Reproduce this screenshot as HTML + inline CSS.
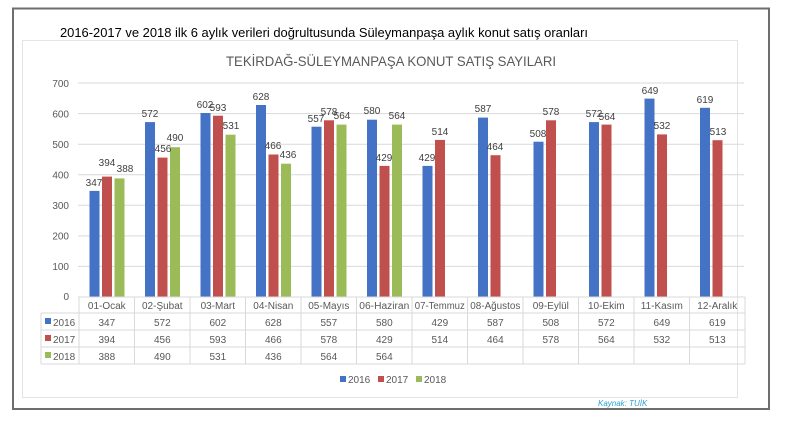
<!DOCTYPE html>
<html><head><meta charset="utf-8"><style>
html,body{margin:0;padding:0;background:#fff;}
svg{display:block;font-family:"Liberation Sans",Arial,sans-serif;}
</style></head><body>
<svg width="791" height="423" viewBox="0 0 791 423" xmlns="http://www.w3.org/2000/svg">
<rect x="13" y="8.5" width="756" height="400.5" fill="#fff" stroke="#6e6e6e" stroke-width="2"/>
<rect x="22.5" y="40.5" width="715" height="357" fill="#fff" stroke="#e4e4e4" stroke-width="1"/>
<text x="60" y="37" font-size="13" textLength="528" lengthAdjust="spacingAndGlyphs" fill="#000">2016-2017 ve 2018 ilk 6 aylık verileri doğrultusunda Süleymanpaşa aylık konut  satış oranları</text>
<text x="391" y="66" font-size="14" textLength="330" lengthAdjust="spacingAndGlyphs" fill="#595959" text-anchor="middle">TEKİRDAĞ-SÜLEYMANPAŞA KONUT SATIŞ SAYILARI</text>
<g stroke="#d9d9d9" stroke-width="1">
<line x1="78" y1="83" x2="744" y2="83"/><line x1="78" y1="113.6" x2="744" y2="113.6"/>
<line x1="78" y1="144.2" x2="744" y2="144.2"/><line x1="78" y1="174.7" x2="744" y2="174.7"/>
<line x1="78" y1="205.3" x2="744" y2="205.3"/><line x1="78" y1="235.9" x2="744" y2="235.9"/>
<line x1="78" y1="266.4" x2="744" y2="266.4"/>
</g>
<g font-size="10" fill="#595959" text-anchor="end">
<text x="69" y="87">700</text><text x="69" y="117.5">600</text><text x="69" y="148">500</text>
<text x="69" y="178.5">400</text><text x="69" y="209">300</text><text x="69" y="239.5">200</text>
<text x="69" y="270">100</text><text x="69" y="300">0</text>
</g>
<g fill="#4472c4">
<rect x="89.5" y="190.9" width="10" height="106.1"/><rect x="145" y="122.1" width="10" height="174.9"/>
<rect x="200.5" y="113" width="10" height="184"/><rect x="256" y="105" width="10" height="192"/>
<rect x="311.5" y="126.7" width="10" height="170.3"/><rect x="367" y="119.7" width="10" height="177.3"/>
<rect x="422.5" y="165.9" width="10" height="131.1"/><rect x="478" y="117.6" width="10" height="179.4"/>
<rect x="533.5" y="141.7" width="10" height="155.3"/><rect x="589" y="122.1" width="10" height="174.9"/>
<rect x="644.5" y="98.6" width="10" height="198.4"/><rect x="700" y="107.8" width="10" height="189.2"/>
</g>
<g fill="#c0504d">
<rect x="102" y="176.6" width="10" height="120.4"/><rect x="157.5" y="157.6" width="10" height="139.4"/>
<rect x="213" y="115.7" width="10" height="181.3"/><rect x="268.5" y="154.5" width="10" height="142.5"/>
<rect x="324" y="120.3" width="10" height="176.7"/><rect x="379.5" y="165.9" width="10" height="131.1"/>
<rect x="435" y="139.9" width="10" height="157.1"/><rect x="490.5" y="155.2" width="10" height="141.8"/>
<rect x="546" y="120.3" width="10" height="176.7"/><rect x="601.5" y="124.6" width="10" height="172.4"/>
<rect x="657" y="134.4" width="10" height="162.6"/><rect x="712.5" y="140.2" width="10" height="156.8"/>
</g>
<g fill="#9bbb59">
<rect x="114.5" y="178.4" width="10" height="118.6"/><rect x="170" y="147.2" width="10" height="149.8"/>
<rect x="225.5" y="134.7" width="10" height="162.3"/><rect x="281" y="163.7" width="10" height="133.3"/>
<rect x="336.5" y="124.6" width="10" height="172.4"/><rect x="392" y="124.6" width="10" height="172.4"/>
</g>
<g font-size="10" fill="#404040" text-anchor="middle">
<text x="94" y="186">347</text><text x="150" y="117">572</text><text x="205" y="108">602</text><text x="261" y="100">628</text>
<text x="316" y="122">557</text><text x="372" y="114">580</text><text x="427" y="161">429</text><text x="483" y="112">587</text>
<text x="538" y="137">508</text><text x="594" y="117">572</text><text x="650" y="94">649</text><text x="705" y="103">619</text>
<text x="107" y="166">394</text><text x="163" y="152">456</text><text x="218" y="111">593</text><text x="273" y="149">466</text>
<text x="329" y="115">578</text><text x="384" y="161">429</text><text x="440" y="135">514</text><text x="495" y="150">464</text>
<text x="551" y="115">578</text><text x="607" y="120">564</text><text x="662" y="129">532</text><text x="718" y="135">513</text>
<text x="125" y="172">388</text><text x="175" y="141">490</text><text x="231" y="129">531</text><text x="288" y="158">436</text>
<text x="342" y="119">564</text><text x="397" y="119">564</text>
</g>
<g stroke="#d9d9d9" stroke-width="1" fill="none">
<line x1="78" y1="297" x2="745" y2="297"/>
<line x1="41" y1="313" x2="745" y2="313"/>
<line x1="41" y1="330" x2="745" y2="330"/>
<line x1="41" y1="347" x2="745" y2="347"/>
<line x1="41" y1="364" x2="745" y2="364"/>
<line x1="41" y1="313" x2="41" y2="364"/>
<line x1="79" y1="297" x2="79" y2="364"/><line x1="134.5" y1="297" x2="134.5" y2="364"/>
<line x1="190" y1="297" x2="190" y2="364"/><line x1="245.5" y1="297" x2="245.5" y2="364"/>
<line x1="301" y1="297" x2="301" y2="364"/><line x1="356.5" y1="297" x2="356.5" y2="364"/>
<line x1="412" y1="297" x2="412" y2="364"/><line x1="467.5" y1="297" x2="467.5" y2="364"/>
<line x1="523" y1="297" x2="523" y2="364"/><line x1="578.5" y1="297" x2="578.5" y2="364"/>
<line x1="634" y1="297" x2="634" y2="364"/><line x1="689.5" y1="297" x2="689.5" y2="364"/>
<line x1="745" y1="297" x2="745" y2="364"/>
</g>
<g font-size="10" fill="#595959" text-anchor="middle">
<text x="106.8" y="309">01-Ocak</text><text x="162.3" y="309">02-Şubat</text><text x="217.8" y="309">03-Mart</text>
<text x="273.3" y="309">04-Nisan</text><text x="328.8" y="309">05-Mayıs</text><text x="384.3" y="309" textLength="50" lengthAdjust="spacingAndGlyphs">06-Haziran</text>
<text x="439.8" y="309" textLength="50" lengthAdjust="spacingAndGlyphs">07-Temmuz</text><text x="495.3" y="309" textLength="50" lengthAdjust="spacingAndGlyphs">08-Ağustos</text><text x="550.8" y="309">09-Eylül</text>
<text x="606.3" y="309">10-Ekim</text><text x="661.8" y="309">11-Kasım</text><text x="717.3" y="309">12-Aralık</text>
<text x="106.8" y="326">347</text><text x="162.3" y="326">572</text><text x="217.8" y="326">602</text>
<text x="273.3" y="326">628</text><text x="328.8" y="326">557</text><text x="384.3" y="326">580</text>
<text x="439.8" y="326">429</text><text x="495.3" y="326">587</text><text x="550.8" y="326">508</text>
<text x="606.3" y="326">572</text><text x="661.8" y="326">649</text><text x="717.3" y="326">619</text>
<text x="106.8" y="343">394</text><text x="162.3" y="343">456</text><text x="217.8" y="343">593</text>
<text x="273.3" y="343">466</text><text x="328.8" y="343">578</text><text x="384.3" y="343">429</text>
<text x="439.8" y="343">514</text><text x="495.3" y="343">464</text><text x="550.8" y="343">578</text>
<text x="606.3" y="343">564</text><text x="661.8" y="343">532</text><text x="717.3" y="343">513</text>
<text x="106.8" y="360">388</text><text x="162.3" y="360">490</text><text x="217.8" y="360">531</text>
<text x="273.3" y="360">436</text><text x="328.8" y="360">564</text><text x="384.3" y="360">564</text>
</g>
<rect x="45" y="318" width="6" height="6" fill="#4472c4"/>
<rect x="45" y="335" width="6" height="6" fill="#c0504d"/>
<rect x="45" y="352" width="6" height="6" fill="#9bbb59"/>
<g font-size="10" fill="#595959">
<text x="53" y="326">2016</text><text x="53" y="343">2017</text><text x="53" y="360">2018</text>
</g>
<rect x="340" y="376" width="6" height="6" fill="#4472c4"/>
<rect x="378" y="376" width="6" height="6" fill="#c0504d"/>
<rect x="416" y="376" width="6" height="6" fill="#9bbb59"/>
<g font-size="10" fill="#595959">
<text x="348" y="383">2016</text><text x="386" y="383">2017</text><text x="424" y="383">2018</text>
</g>
<text x="598" y="406" font-size="8" font-style="italic" fill="#2e9fd4">Kaynak: TUİK</text>
</svg>
</body></html>
